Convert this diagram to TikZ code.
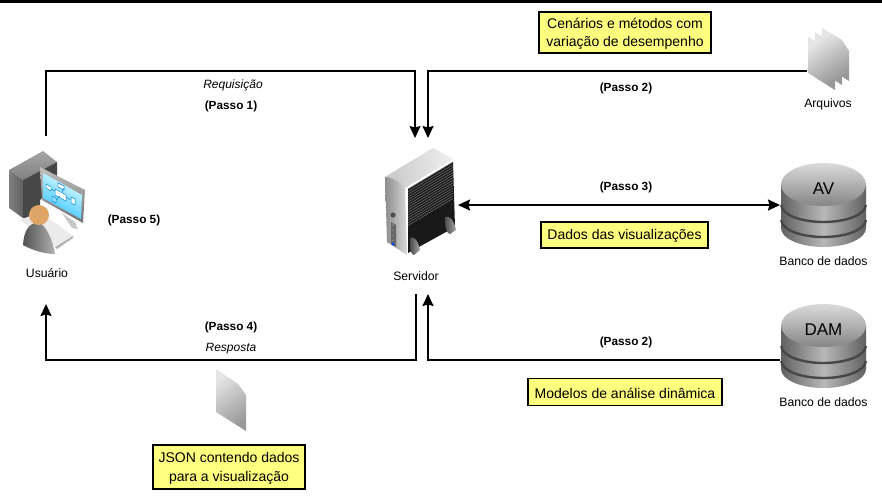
\documentclass[tikz,border=0pt]{standalone}
\usepackage{fontspec}
\setmainfont{Liberation Sans}
\usetikzlibrary{arrows.meta,positioning}
\definecolor{noteyellow}{HTML}{FFFF7F}
\definecolor{skin}{HTML}{DDA566}
\newcommand{\lowerstrut}{\rule{0pt}{12.6pt}}
\tikzset{
  conn/.style={line width=1.7pt,-{Stealth[length=12pt,width=11pt,inset=1.5pt]}},
  connboth/.style={line width=1.7pt,{Stealth[length=12pt,width=11pt,inset=1.5pt]}-{Stealth[length=12pt,width=11pt,inset=1.5pt]}},
  note/.style={draw=black,line width=1.7pt,fill=noteyellow,align=center,font=\fontsize{14}{18.5}\selectfont,inner sep=0pt,anchor=center},
  lab/.style={font=\fontsize{12.2}{14}\selectfont,anchor=center},
  step label/.style={font=\fontsize{11.8}{14}\selectfont\bfseries,anchor=center},
  ital/.style={font=\fontsize{12}{14}\selectfont\itshape,anchor=center},
  sheet/.style={left color=black!10,right color=black!40,draw=none,shading angle=35},
}
\newcommand{\dbicon}[2]{%
  \begin{scope}[yshift=-#1pt]
    \path[left color=black!62,right color=black!62,middle color=black!28]
      (781,185) -- (781,228) arc[x radius=42.5,y radius=19,start angle=180,end angle=0] -- (866,185) -- cycle;
    \draw[black!72,line width=2.4pt] (781.3,205) arc[x radius=42.2,y radius=17,start angle=180,end angle=0];
    \draw[black!72,line width=2.4pt] (781.3,220) arc[x radius=42.2,y radius=17,start angle=180,end angle=0];
    \shade[top color=black!14,bottom color=black!48] (823.5,184.5) ellipse (42.5 and 21.5);
    \node[font=\fontsize{17}{20}\selectfont] at (823.5,189) {#2};
  \end{scope}}
\begin{document}
\begin{tikzpicture}[x=1pt,y=-1pt]
\useasboundingbox (0,0) rectangle (882,499);
\fill[white] (0,0) rectangle (882,499);
\fill[black] (0,0) rectangle (882,3);

% ---- user workstation
\shade[top color=black!35,bottom color=black!50] (9,170) -- (43,151) -- (57,162) -- (23,180) -- cycle;
\shade[left color=black!50,right color=black!62] (9,170) -- (23,180) -- (23,218) -- (9,208) -- cycle;
\fill[black!72] (23,180) -- (57,162) -- (57,185) -- (40,200) -- (40,220) -- (23,218) -- cycle;
\fill[black!8] (20,220) -- (40,212) -- (73,236) -- (55,246) -- cycle;
\fill[black!30] (55,247) -- (73,236) -- (73,238) -- (57,249) -- cycle;
\fill[black!22] (62,213) -- (75,222) -- (78,229) -- (72,228) -- cycle;
\shade[top color=black!25,bottom color=black!55] (40,167) -- (85,190) -- (83,223) -- (42,200) -- cycle;
\shade[top color=cyan!10!white,bottom color=cyan!70!blue!80!white,shading angle=-30] (43,173) -- (82,195) -- (81,219) -- (43,198) -- cycle;
\draw[cyan!70!blue,fill=white,line width=.5pt] (46,184) -- (51,187) -- (51,191) -- (46,188) -- cycle;
\draw[cyan!70!blue,fill=white,line width=.5pt] (58,183) -- (64,186) -- (64,190) -- (58,187) -- cycle;
\draw[cyan!70!blue,fill=white,line width=.5pt] (55,189) -- (66,195) -- (66,201) -- (55,195) -- cycle;
\draw[cyan!70!blue,fill=cyan!40,line width=.5pt] (52,196) -- (56,198) -- (56,203) -- (52,201) -- cycle;
\draw[cyan!70!blue,fill=white,line width=.5pt] (71,197) -- (75,199) -- (75,205) -- (71,203) -- cycle;
\draw[cyan!70!blue,line width=.5pt] (51,189) -- (55,191) (64,188) -- (62,192) (66,197) -- (71,200) (56,200) -- (60,196);
\shade[left color=black!68,right color=black!30] (23,245) .. controls (24,231) and (28,224) .. (38,222) .. controls (46,225) and (53,240) .. (55,254) .. controls (44,254) and (32,250) .. (23,245) -- cycle;
\fill[skin] (39,215) circle (10);

% ---- server
\shade[left color=black!22,right color=black!6] (385,177) -- (433,148) -- (453,159) -- (405,188) -- cycle;
\shade[left color=black!45,right color=black!15] (385,177) .. controls (395,178) and (402,183) .. (405,188) -- (407,255) -- (387,242) -- cycle;
\fill[black!90] (408,189) -- (453,162) -- (455,227) -- (408,253) -- cycle;
\foreach \t in {0,2.6,...,38}{\draw[black!55,line width=.5pt] (408,189+\t) -- (453,162+\t);}
\fill[black!70] (393,215) circle (2.6);
\fill[black!60] (391,222) -- (396,225) -- (396,247) -- (391,244) -- cycle;
\fill[blue!70!cyan] (393,244) circle (1.7);
\foreach \t in {0,5,10,15}{\fill[white] (393,225+\t) circle (.5);}
\shade[left color=black!70,right color=black!35] (410,238) .. controls (414,236) and (418,240) .. (420,250) -- (414,255) .. controls (411,255) and (410,250) .. (410,238) -- cycle;
\shade[left color=black!70,right color=black!35] (445,217) .. controls (449,215) and (454,220) .. (456,230) -- (450,234) .. controls (447,234) and (445,229) .. (445,217) -- cycle;

% ---- files
\foreach \dx/\dy in {14/-9,7/-5,0/0}{
  \begin{scope}[xshift=\dx pt,yshift=-\dy pt]
    \shade[sheet] (808,37) -- (828,49) -- (835,60) -- (835,90) -- (808,73) -- cycle;
  \end{scope}}

% ---- single JSON sheet
\shade[sheet] (216,369) -- (238,384) -- (246,395) -- (246,431) -- (216,412) -- cycle;

% ---- databases
\dbicon{0}{AV}
\dbicon{141}{DAM}

% ---- anchors
\coordinate (usertop) at (46,136);
\coordinate (userbot) at (46,304);
\coordinate (srvA) at (415,138);
\coordinate (srvB) at (428,138);
\coordinate (srvC) at (416,294);
\coordinate (srvD) at (428,294);
\coordinate (srvE) at (458,205);
\coordinate (files) at (807,71);
\coordinate (dbav) at (780,205);
\coordinate (dbdam) at (780,360);

% ---- connectors
\draw[conn] (usertop) -- (46,71) -- (415,71) -- (srvA);
\draw[conn] (files) -- (428,71) -- (srvB);
\draw[connboth] (srvE) -- (dbav);
\draw[conn] (srvC) -- (416,360) -- (46,360) -- (userbot);
\draw[conn] (dbdam) -- (428,360) -- (srvD);

% ---- notes
\node[note,minimum width=172pt,minimum height=41pt] (n1) at (625,32.5) {\lowerstrut Cenários e métodos com\\variação de desempenho};
\node[note,minimum width=167pt,minimum height=26pt] (n2) at (624.5,235) {\lowerstrut Dados das visualizações};
\node[note,minimum width=194pt,minimum height=27pt] (n3) at (625,392) {\lowerstrut Modelos de análise dinâmica};
\node[note,minimum width=152pt,minimum height=44pt] (n4) at (229,467) {\lowerstrut JSON contendo dados\\para a visualização};

% ---- labels
\node[ital] (t1) at (233,85.5) {Requisição};
\node[step label] (t2) at (231,106) {(Passo 1)};
\node[step label] (t3) at (626,88) {(Passo 2)};
\node[step label] (t4) at (626,187) {(Passo 3)};
\node[step label] (t5) at (134,220) {(Passo 5)};
\node[step label] (t6) at (231,327) {(Passo 4)};
\node[ital] (t7) at (231,348.5) {Resposta};
\node[step label] (t8) at (626,342) {(Passo 2)};
\node[lab] (l1) at (47,273.5) {Usuário};
\node[lab] (l2) at (416,276.5) {Servidor};
\node[lab] (l3) at (828,104.5) {Arquivos};
\node[lab] (l4) at (823.5,261) {Banco de dados};
\node[lab] (l5) at (823.5,402) {Banco de dados};
\end{tikzpicture}
\end{document}
